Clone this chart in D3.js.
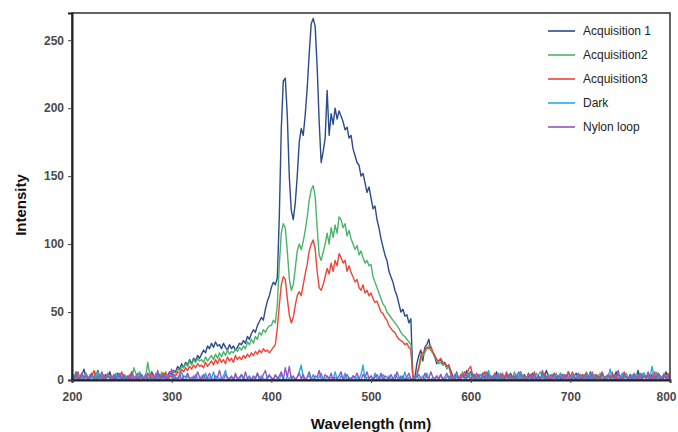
<!DOCTYPE html>
<html>
<head>
<meta charset="utf-8">
<script src="https://cdn.jsdelivr.net/npm/d3@7"></script>
<style>
  html, body { margin: 0; padding: 0; background: #fff; }
  svg { display: block; font-family: "Liberation Sans", Arial, sans-serif; }
</style>
</head>
<body>
<svg id="chart" width="678" height="432"></svg>
<script>
// Spectra sampled every 2 nm from 200 to 800 nm
const wavelengths = d3.range(200, 802, 2);

const acquisition1 = [
  3,1,6,2,0,4,8,2,1,3, 5,0,2,7,1,3,0,4,2,6, 1,0,3,5,2,1,4,0,3,2, 6,1,0,2,5,3,1,4,0,2, 6,3,1,0,4,2,5,1,3,6,
  4,7,6,10,8,12,9,13,11,15,12,16,14,18,16,
  19,22,20,25,23,27,24,28,25,26,23,27,24,22,26,23,25,22,24,27,
  26,29,27,32,30,34,37,35,40,43,46,44,52,58,62,
  68,72,70,75,120,185,220,222,195,150,
  125,118,130,150,175,185,180,195,215,240,
  262,266,260,230,190,160,168,178,213,180,
  196,188,200,192,198,194,190,184,186,178,
  180,170,165,160,158,150,152,145,138,142,
  134,126,128,118,112,104,98,92,88,80,
  76,72,66,62,56,50,52,47,48,42,
  45,
  2,1,12,18,22,14,24,26,30,22, 20,17,12,14,15,11,13,10,11,7, 3,1,0,2,1,5,2,7,3,
  6,2,4,1,3,0,5,2,1,4, 3,0,2,6,1,3,2,0,4,1, 5,2,3,0,1,6,2,4,0,3, 1,5,2,0,3,1,4,2,7,3, 0,2,5,1,3,0,4,2,1,6,
  2,0,3,5,1,2,4,0,3,1, 6,2,0,4,1,3,5,2,0,3, 1,4,2,6,0,3,1,5,2,0, 4,1,3,2,7,0,2,5,1,3, 0,4,2,1,5,3,0,2,6,1, 3
];

const acquisition2 = [
  2,4,1,0,3,5,1,2,0,4, 2,1,6,0,3,2,4,1,5,0, 2,3,1,4,0,2,4,3,1,3, 0,9,5,1,3,2,0,3,13,4, 2,0,5,3,1,6,2,4,1,3,
  3,6,5,8,7,10,9,12,10,14,11,15,13,16,14,
  15,13,17,14,16,18,15,19,16,20,17,21,18,22,19,21,20,23,21,24,
  22,25,23,28,26,30,27,32,30,35,33,37,35,38,40,
  40,44,42,55,85,108,115,112,95,75,
  66,70,82,95,100,96,102,110,120,132,
  140,143,135,112,92,88,94,100,108,100,
  112,105,114,108,120,118,112,115,106,110,
  104,100,96,99,92,95,90,86,88,84,
  85,76,72,68,64,60,56,54,50,48,
  46,44,42,40,38,35,33,32,30,28,
  26,
  1,0,3,8,15,18,20,23,25,22, 20,18,14,12,13,11,12,8,10,4, 2,1,3,0,2,6,1,4,2,
  5,1,3,0,2,4,1,6,2,0, 3,1,4,2,0,5,1,3,2,4, 0,2,6,1,3,0,4,2,1,5, 2,0,3,1,4,6,2,0,3,1, 4,2,1,5,0,3,2,4,1,0,
  3,5,1,2,0,4,2,1,6,3, 0,2,4,1,3,5,0,2,1,4, 2,6,1,3,0,2,4,1,5,2, 0,3,1,4,2,0,5,3,1,2, 4,0,2,6,1,3,2,5,0,2, 4
];

const acquisition3 = [
  4,1,2,6,0,3,1,5,2,0, 3,7,1,2,4,0,3,1,5,2, 0,4,1,3,2,6,0,2,1,4, 3,0,2,5,1,3,0,4,2,1, 5,2,0,3,1,4,2,6,0,3,
  2,4,3,6,5,8,6,9,7,10,8,11,9,12,10,
  11,9,13,10,12,14,11,15,12,16,13,15,12,17,14,16,13,18,15,17,
  15,18,16,19,17,20,18,21,19,22,20,23,21,22,20,
  22,24,26,38,55,70,76,74,60,48,
  42,46,55,62,65,62,70,78,85,95,
  100,103,96,80,68,66,70,76,82,78,
  86,80,88,84,93,90,86,88,80,84,
  79,76,72,74,68,66,70,64,66,62,
  64,60,57,58,54,50,49,46,44,40,
  38,36,35,32,30,29,28,26,27,24,
  22,
  3,0,4,10,18,20,22,24,23,25, 21,18,15,14,16,13,12,10,11,5, 2,1,3,0,4,2,6,3,8,
  10,3,1,5,2,0,4,6,1,3, 2,0,5,1,3,4,0,2,6,1, 3,2,0,4,1,5,2,3,0,1, 4,2,6,0,3,1,2,5,1,0, 3,4,1,2,0,5,3,1,4,2,
  0,6,2,1,3,0,4,2,5,1, 2,3,0,4,1,2,6,0,3,2, 1,5,2,0,4,3,1,6,2,0, 3,1,4,2,0,5,1,3,2,4, 0,2,6,1,3,0,2,4,1,5, 2
];

const dark = [
  2,0,5,1,3,0,2,4,0,1, 3,0,1,6,0,2,1,0,4,1, 0,2,5,0,1,3,0,2,1,0, 4,1,0,2,6,0,1,3,0,2, 1,0,3,5,0,2,1,0,4,1,
  0,3,1,0,2,6,1,0,3,1, 2,0,4,1,0,3,1,5,0,2, 1,6,0,2,1,0,3,7,0,1, 2,0,3,1,0,4,2,0,1,3, 0,2,1,5,0,3,1,0,2,4,
  1,0,3,2,0,5,1,0,2,1, 3,0,1,2,6,11,1,0,2,3, 0,4,1,0,2,5,1,0,3,1, 2,0,6,1,0,3,1,5,0,2, 1,3,0,2,1,4,11,0,2,1,
  3,0,5,1,0,2,4,1,0,3, 1,0,4,2,0,3,1,6,0,2, 1,0,2,4,0,1,3,0,5,1, 0,2,1,3,0,4,1,0,2,3, 1,0,4,2,0,1,3,0,2,5,
  0,2,1,0,3,4,1,0,2,7, 1,0,3,1,5,0,2,1,0,3, 2,0,1,4,0,6,1,0,2,1, 3,0,2,5,1,0,3,1,0,4, 1,0,2,3,0,5,1,2,0,6,
  1,3,0,2,1,4,0,2,3,0, 5,1,0,2,3,0,4,1,0,2, 8,1,0,3,2,0,5,1,0,2, 1,4,0,2,3,1,0,5,1,0, 2,10,1,0,3,2,0,4,1,3,
  2
];

const nylonLoop = [
  3,1,4,0,2,5,1,3,0,2, 4,1,0,3,2,6,0,1,3,2, 0,4,1,2,5,0,3,1,2,0, 6,1,3,0,2,4,1,0,5,2, 1,3,0,7,2,1,4,0,2,3,
  8,0,2,1,4,0,3,2,5,1, 0,3,1,6,2,0,4,1,2,5, 1,0,3,2,7,1,0,4,2,1, 3,0,5,1,2,4,0,6,1,2, 0,3,1,5,2,0,4,7,1,3,
  2,0,4,1,3,6,0,9,2,10, 1,3,0,2,5,1,4,0,2,6, 1,0,3,2,7,1,0,4,2,1, 5,0,2,1,3,6,0,2,4,1, 0,3,2,5,1,0,4,2,6,1,
  3,0,2,4,1,5,0,3,2,1, 4,1,0,6,2,1,3,0,2,5, 1,0,3,2,4,1,0,5,2,1, 6,2,0,3,1,4,0,2,5,1, 3,0,2,6,1,0,4,2,1,3,
  0,5,1,2,4,0,3,1,6,2, 1,3,0,4,2,1,5,0,3,2, 4,0,2,1,6,3,0,2,1,5, 2,0,4,1,3,0,7,2,1,3, 0,2,5,1,3,2,0,4,1,6,
  2,1,3,0,5,2,1,4,0,3, 1,6,0,2,3,1,5,0,2,4, 0,3,1,2,7,1,0,4,2,1, 3,0,5,1,2,4,0,3,1,6, 2,0,3,1,5,2,0,4,1,3,
  2
];

const seriesNames = ["Acquisition 1", "Acquisition2", "Acquisition3", "Dark", "Nylon loop"];
const seriesValues = [acquisition1, acquisition2, acquisition3, dark, nylonLoop];
const seriesColors = ["#2a4b8c", "#4cb36a", "#ef4437", "#1eaee6", "#9156c2"];

const xTicks = [200, 300, 400, 500, 600, 700, 800];
const yTicks = [0, 50, 100, 150, 200, 250];

const svg = d3.select("#chart");
const W = 678, H = 432;
const margin = { top: 13, right: 8, bottom: 52, left: 72 };

const x = d3.scaleLinear().domain([200, 800]).range([margin.left, W - margin.right]);
const y = d3.scaleLinear().domain([0, 270]).range([H - margin.bottom, margin.top]);

svg.append("defs").append("clipPath").attr("id", "plot-clip")
  .append("rect")
  .attr("x", margin.left).attr("y", margin.top)
  .attr("width", W - margin.left - margin.right)
  .attr("height", H - margin.top - margin.bottom);

// Spectral traces
const line = d3.line()
  .x((d, i) => x(wavelengths[i]))
  .y(d => y(d));

const traces = svg.append("g").attr("clip-path", "url(#plot-clip)");
seriesValues.forEach((vals, k) => {
  traces.append("path")
    .datum(vals)
    .attr("fill", "none")
    .attr("stroke", seriesColors[k])
    .attr("stroke-width", 1.4)
    .attr("stroke-linejoin", "round")
    .attr("d", line);
});

// Plot frame
svg.append("rect")
  .attr("x", margin.left).attr("y", margin.top)
  .attr("width", W - margin.left - margin.right)
  .attr("height", H - margin.top - margin.bottom)
  .attr("fill", "none")
  .attr("stroke", "#3c3c3c")
  .attr("stroke-width", 1.6);

// Axes
const yAxis = svg.append("g")
  .attr("transform", `translate(${margin.left},0)`)
  .call(d3.axisLeft(y).tickValues(yTicks).tickSize(4).tickPadding(4));
const xAxis = svg.append("g")
  .attr("transform", `translate(0,${H - margin.bottom})`)
  .call(d3.axisBottom(x).tickValues(xTicks).tickSize(3).tickPadding(9));

[yAxis, xAxis].forEach(g => {
  g.select(".domain").attr("stroke", "#222").attr("stroke-width", 2);
  g.selectAll(".tick line").attr("stroke", "#444");
  g.selectAll(".tick text")
    .attr("font-size", 12)
    .attr("font-weight", "bold")
    .attr("fill", "#4a4a4a")
    .attr("font-family", "'Liberation Sans', Arial, sans-serif");
});
// keep the last x label inside the page
xAxis.selectAll(".tick text").filter(d => d === 800).attr("text-anchor", "end").attr("dx", 6);

// Axis titles
svg.append("text")
  .attr("transform", "translate(26,205) rotate(-90)")
  .attr("text-anchor", "middle")
  .attr("font-size", 15)
  .attr("font-weight", "bold")
  .attr("fill", "#111")
  .text("Intensity");

svg.append("text")
  .attr("x", 371).attr("y", 429)
  .attr("text-anchor", "middle")
  .attr("font-size", 15)
  .attr("font-weight", "bold")
  .attr("fill", "#111")
  .text("Wavelength (nm)");

// Legend
const legend = svg.append("g");
const legendY = [31, 55, 79, 103, 127];
seriesNames.forEach((name, k) => {
  const row = legend.append("g").attr("transform", `translate(0,${legendY[k]})`);
  row.append("line")
    .attr("x1", 548).attr("x2", 575)
    .attr("y1", 0).attr("y2", 0)
    .attr("stroke", seriesColors[k])
    .attr("stroke-width", 1.6);
  row.append("text")
    .attr("x", 583).attr("y", 0)
    .attr("dy", "0.35em")
    .attr("font-size", 12)
    .attr("fill", "#222")
    .text(name);
});
</script>
</body>
</html>
